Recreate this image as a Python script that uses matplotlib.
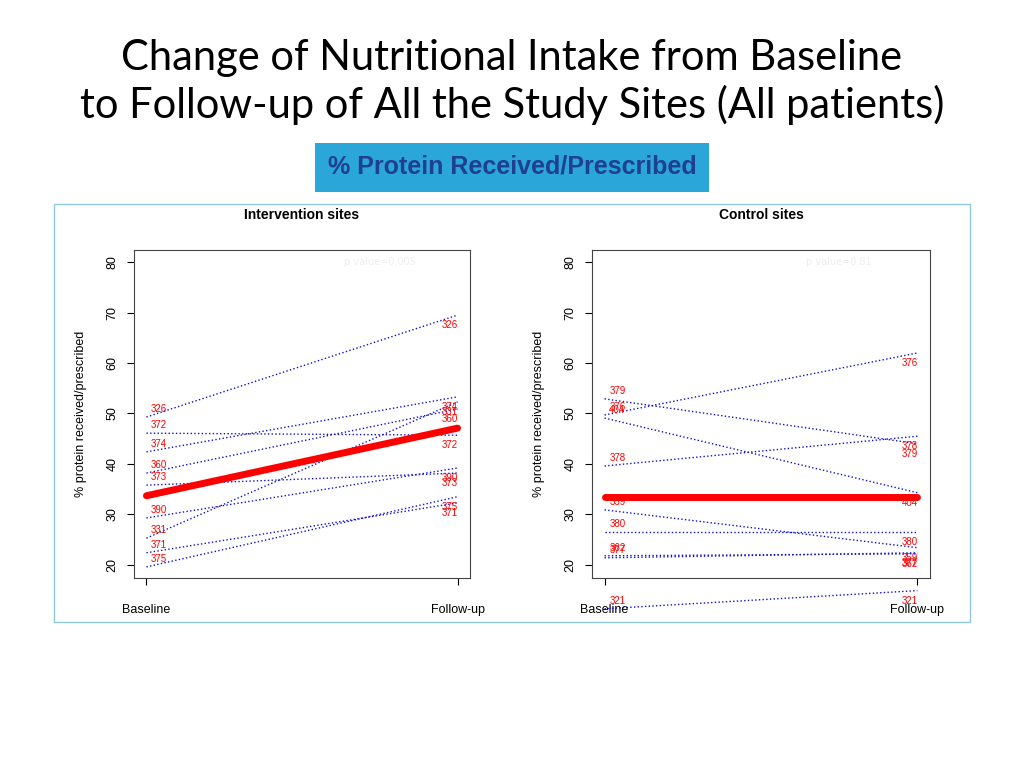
import matplotlib
matplotlib.use("Agg")
import matplotlib.pyplot as plt
from matplotlib.patches import Rectangle

x_labels = ["Baseline", "Follow-up"]
int_ids = ["326", "372", "374", "360", "331", "373", "390", "371", "375"]
int_base = [49.3, 46.1, 42.4, 38.2, 25.3, 35.8, 29.3, 22.4, 19.6]
int_follow = [69.5, 45.7, 53.3, 50.9, 52.3, 38.2, 39.2, 32.3, 33.5]
int_mean = [33.7, 47.1]
ctl_ids = ["376", "379", "404", "378", "359", "380", "377", "362", "321"]
ctl_base = [49.7, 52.9, 49.1, 39.6, 30.9, 26.5, 21.4, 21.8, 11.3]
ctl_follow = [62.0, 44.0, 34.3, 45.5, 23.4, 26.5, 22.4, 22.2, 14.9]
ctl_mean = [33.5, 33.5]

W, H = 1024, 768
fig = plt.figure(figsize=(10.24, 7.68), dpi=100)
fig.text(0.5, 1 - 58/H, "Change of Nutritional Intake from Baseline", ha="center", va="center",
         fontsize=30, family="Lato")
fig.text(0.5, 1 - 105/H, "to Follow-up of All the Study Sites (All patients)", ha="center", va="center",
         fontsize=30, family="Lato")
fig.text(512/W, 1 - 167/H, "% Protein Received/Prescribed", ha="center", va="center", fontsize=18,
         fontweight="bold", color="#1f3f8f", family="Liberation Sans",
         bbox=dict(boxstyle="square,pad=0.5", fc="#2aa6d8", ec="none"))
fig.patches.append(Rectangle((54/W, 1 - 622/H), (970-54)/W, (622-204)/H, transform=fig.transFigure,
                             fill=False, ec="#8fc9dd", lw=1))

def panel(left, right, title, ids, base, follow, mean, pval):
    ax = fig.add_axes([left/W, 1 - 578/H, (right-left)/W, (578-250)/H])
    for i, b, f in zip(ids, base, follow):
        ax.plot([0, 1], [b, f], ls=":", color="#1010d0", lw=1, clip_on=False)
        ax.text(0.015, b + 1.6, i, color="red", fontsize=7, va="center", ha="left", clip_on=False,
                family="Liberation Sans")
        ax.text(0.95, f - 2.0, i, color="red", fontsize=7, va="center", ha="left", clip_on=False,
                family="Liberation Sans")
    ax.plot([0, 1], mean, color="red", lw=5, solid_capstyle="round")
    ax.set_xlim(-0.04, 1.04)
    ax.set_ylim(17.4, 82.4)
    ax.set_xticks([0, 1])
    ax.set_xticklabels(x_labels, fontsize=9, family="Liberation Sans")
    ax.set_yticks([20, 30, 40, 50, 60, 70, 80])
    ax.set_yticklabels(["20", "30", "40", "50", "60", "70", "80"], rotation=90, va="center",
                       fontsize=9, family="Liberation Sans")
    ax.tick_params(axis="x", pad=14, length=5)
    ax.tick_params(axis="y", pad=6, length=5)
    for s in ax.spines.values():
        s.set_color("#444444")
    ax.set_title(title, fontsize=10, fontweight="bold", pad=22, family="Liberation Sans")
    ax.set_ylabel("% protein received/prescribed", fontsize=9, labelpad=14, family="Liberation Sans")
    ax.text(0.75, 79.5, pval, color="#eeeeee", fontsize=7, ha="center")
    return ax

panel(134, 470, "Intervention sites", int_ids, int_base, int_follow, int_mean, "p value=0.005")
panel(592, 930, "Control sites", ctl_ids, ctl_base, ctl_follow, ctl_mean, "p value=0.81")

fig.savefig("out.png", dpi=100)
